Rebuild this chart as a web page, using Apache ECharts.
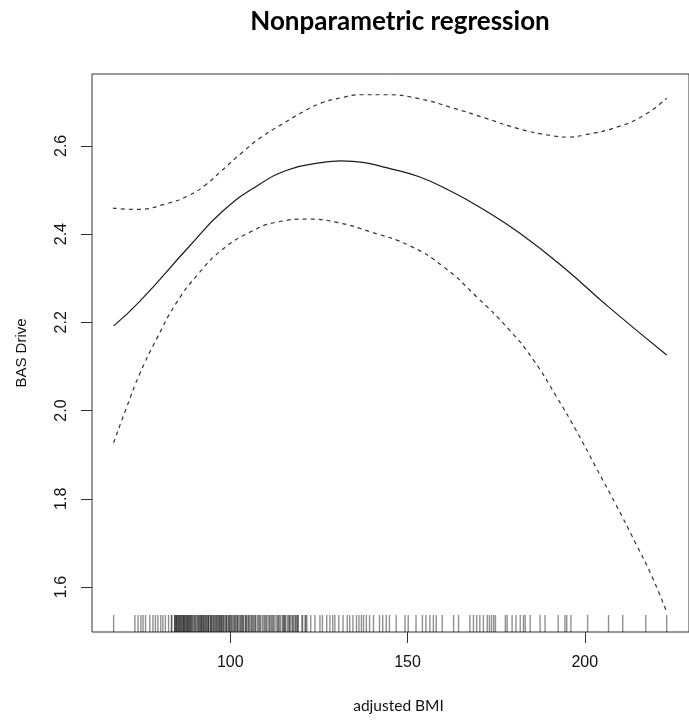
<!DOCTYPE html>
<html>
<head>
<meta charset="utf-8">
<script src="https://cdn.jsdelivr.net/npm/echarts@6/dist/echarts.min.js"></script>
<style>
html,body{margin:0;padding:0;background:#fff;}
#chart{width:689px;height:720px;}
</style>
</head>
<body>
<div id="chart"></div>
<script>
// ---- data ----
var titleText = "Nonparametric regression";
var xName = "adjusted BMI";
var yName = "BAS Drive";
var xTicks = [100, 150, 200];
var yTicks = [1.6, 1.8, 2.0, 2.2, 2.4, 2.6];

// fitted curve (solid)
var fitX = [67.1, 74.4, 88.4, 97.6, 107.1, 116.4, 125.6, 131.2, 137.9, 144.3, 153.3, 162.8, 171.2, 181.5, 193.8, 206.7, 223.1];
var fitY = [2.192, 2.247, 2.372, 2.450, 2.507, 2.546, 2.562, 2.566, 2.562, 2.550, 2.530, 2.495, 2.457, 2.403, 2.326, 2.235, 2.126];

// upper confidence band (dashed)
var upperX = [66.9, 73.6, 82.0, 88.4, 93.1, 97.6, 103.2, 108.8, 114.4, 120.0, 125.6, 131.2, 136.8, 144.1, 153.3, 162.8, 172.0, 181.3, 190.8, 195.2, 200.0, 209.2, 216.8, 223.1];
var upperY = [2.459, 2.456, 2.469, 2.488, 2.512, 2.544, 2.584, 2.620, 2.648, 2.675, 2.697, 2.709, 2.716, 2.716, 2.707, 2.686, 2.663, 2.639, 2.623, 2.620, 2.625, 2.643, 2.670, 2.708];

// lower confidence band (dashed)
var lowerX = [67.1, 70.8, 74.4, 79.2, 84.8, 91.2, 97.6, 105.2, 113.6, 122.0, 130.4, 139.6, 150.8, 160.3, 169.5, 178.7, 185.5, 191.9, 197.5, 203.1, 208.7, 214.3, 219.0, 223.1];
var lowerY = [1.927, 2.008, 2.082, 2.162, 2.244, 2.312, 2.364, 2.403, 2.428, 2.434, 2.426, 2.405, 2.373, 2.325, 2.258, 2.183, 2.115, 2.033, 1.956, 1.872, 1.788, 1.700, 1.623, 1.543];

// rug of observed adjusted BMI values
var rugX = [
  67.1, 73.1, 74.0, 74.8, 75.4, 76.1, 77.3, 78.2, 78.9, 79.6, 80.4, 81.0, 81.7, 82.6, 83.4, 83.5,
  84.3, 84.5, 84.8, 85.0, 85.3, 85.6, 85.8, 86.1, 86.3, 86.7, 86.9, 87.2, 87.4, 87.8, 88.0, 88.3, 88.7, 88.9,
  89.3, 89.8, 90.2, 90.5, 91.0, 91.4, 91.7, 91.9, 92.2, 92.5, 92.8, 93.0, 93.4, 93.7, 93.9, 94.3, 94.6, 94.8,
  95.1, 95.5, 95.8, 96.0, 96.4, 96.7, 97.0, 97.3, 97.6, 97.9, 98.3, 98.7, 99.0, 99.4, 99.6, 100.0, 100.3,
  100.8, 101.1, 101.5, 101.9, 102.2, 102.6, 103.1, 103.4, 103.8, 104.3, 104.6, 105.0, 105.5, 105.9, 106.4,
  106.7, 107.2, 107.7, 108.0, 108.6, 109.1, 109.5, 110.1, 110.4, 110.9, 111.5, 111.8, 112.4, 112.9, 113.3,
  113.6, 114.2, 114.7, 115.0, 115.2, 115.6, 116.1, 116.5, 116.9,
  84.4, 84.9, 85.4, 86.0, 86.6, 87.0, 87.6, 88.1, 88.5, 89.0, 89.5, 90.0, 90.8, 91.2, 91.8, 92.4, 93.2,
  93.8, 94.5, 95.3, 96.2, 96.9, 97.5, 98.1, 98.9, 99.8, 100.5, 101.3, 102.0, 102.9, 103.6, 104.4, 105.2,
  106.1, 107.0, 108.3, 109.8, 111.1, 112.1, 113.8, 115.4, 116.7, 117.6, 118.5, 119.0, 120.4, 121.3,
  117.4, 117.9, 118.3, 118.8, 119.2, 120.2, 121.1, 121.6, 122.7, 123.9, 125.3, 126.0, 127.2, 128.1, 128.9,
  129.5, 130.6, 131.8, 133.0, 133.7, 134.6, 135.6, 136.3, 137.0, 137.6, 138.4, 139.3, 140.4, 142.1, 143.0,
  144.0, 144.9, 146.8, 149.3, 150.2, 152.4, 154.2, 155.2, 156.3, 157.3, 158.1, 159.8, 163.0, 164.4,
  167.6, 168.6, 169.5, 170.4, 171.4, 172.5, 173.1, 173.7, 174.3, 174.8, 177.6, 178.1, 179.5, 180.6, 181.8,
  182.7, 183.2, 184.6, 187.4, 188.8, 192.5, 194.4, 194.9, 196.1, 200.8, 206.7, 210.7, 217.2, 223.1
];

var X_MIN = 61.0, X_MAX = 229.4;
var Y_MIN = 1.498, Y_MAX = 2.763;

function pairs(xs, ys) { return xs.map(function (x, i) { return [x, ys[i]]; }); }

var chart = echarts.init(document.getElementById('chart'), null, {renderer: 'canvas'});
var option = {
  animation: false,
  backgroundColor: '#ffffff',
  grid: {left: 92, top: 74, width: 602, height: 558, show: true, borderColor: '#333', borderWidth: 1, backgroundColor: 'transparent', containLabel: false},
  graphic: [{
    type: 'text', x: 400, y: 22,
    style: {text: titleText, textAlign: 'center', textVerticalAlign: 'middle', fontFamily: 'Lato', fontWeight: 'bold', fontSize: 26, fill: '#000'}
  }],
  xAxis: {
    type: 'value', min: X_MIN, max: X_MAX,
    name: xName, nameLocation: 'middle', nameGap: 66,
    nameTextStyle: {fontFamily: 'Lato', fontSize: 15.5, color: '#111', padding: [0, 0, 0, 16]},
    axisLine: {show: false},
    splitLine: {show: false},
    axisTick: {show: true, length: 11, lineStyle: {color: '#333', width: 1}, customValues: xTicks},
    axisLabel: {margin: 23, fontFamily: 'Liberation Sans', fontSize: 16, color: '#111', customValues: xTicks, formatter: function (v) { return String(v); }}
  },
  yAxis: {
    type: 'value', min: Y_MIN, max: Y_MAX,
    name: yName, nameLocation: 'middle', nameGap: 63, nameRotate: 90,
    nameTextStyle: {fontFamily: 'Liberation Sans', fontSize: 15, color: '#111'},
    axisLine: {show: false},
    splitLine: {show: false},
    axisTick: {show: true, length: 11, lineStyle: {color: '#333', width: 1}, customValues: yTicks},
    axisLabel: {margin: 22, rotate: 90, fontFamily: 'Liberation Sans', fontSize: 16, color: '#111', customValues: yTicks, formatter: function (v) { return v.toFixed(1); }}
  },
  series: [
    {
      name: 'fit', type: 'line', data: pairs(fitX, fitY), showSymbol: false, symbol: 'none',
      smooth: 0.5,
      lineStyle: {color: '#1a1a1a', width: 1.2, type: 'solid'}
    },
    {
      name: 'upper', type: 'line', data: pairs(upperX, upperY), showSymbol: false, symbol: 'none',
      smooth: 0.5,
      lineStyle: {color: '#333', width: 1.2, type: [4, 4]}
    },
    {
      name: 'lower', type: 'line', data: pairs(lowerX, lowerY), showSymbol: false, symbol: 'none',
      smooth: 0.5,
      lineStyle: {color: '#333', width: 1.2, type: [4, 4]}
    },
    {
      name: 'rug', type: 'scatter',
      data: rugX.map(function (x) { return [x, Y_MIN]; }),
      symbol: 'rect', symbolSize: [1.4, 17], symbolOffset: [0, -8.5],
      itemStyle: {color: 'rgba(0,0,0,0.55)'},
      clip: false, silent: true
    }
  ]
};
chart.setOption(option);
</script>
</body>
</html>
